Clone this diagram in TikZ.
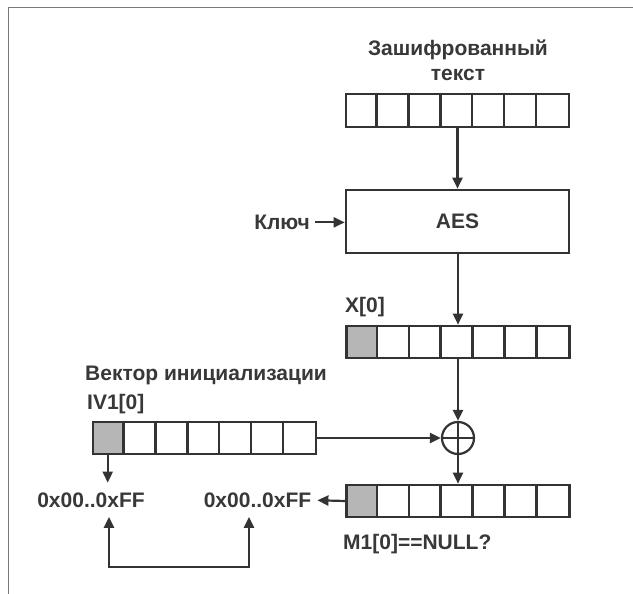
\documentclass[tikz,border=0pt]{standalone}
\usepackage{fontspec}
\setmainfont{Liberation Sans}
\usetikzlibrary{arrows.meta,calc}
\definecolor{ink}{HTML}{333333}
\definecolor{txt}{HTML}{383838}
\definecolor{cellgray}{HTML}{B6B6B6}
\definecolor{framegray}{HTML}{7A7A7A}
\begin{document}
\begin{tikzpicture}[x=1pt,y=-1pt,
  lbl/.style={font=\fontsize{21}{25}\selectfont\bfseries, text=txt, inner sep=0pt},
  arr/.style={draw=ink, line width=2.2pt, -{Triangle[length=11pt,width=10pt]}},
  reg/.style={draw=ink, fill=white, line width=2.6pt, minimum width=223pt, minimum height=32pt, inner sep=0pt},
  regfirst/.style={reg, path picture={\fill[cellgray] (path picture bounding box.north west) rectangle ($(path picture bounding box.south west)+(31.857pt,0pt)$);}},
  divider/.style={draw=ink, line width=2.6pt}
]
\useasboundingbox (0,0) rectangle (633,594);
\fill[white] (0,0) rectangle (633,594);
\draw[framegray, line width=1.6pt] (8.5,594) -- (8.5,7.5) -- (633,7.5);

% registers
\node[reg, minimum height=33pt] (ct) at (457.5,110.5) {};
\node[reg, minimum height=63pt, lbl] (aes) at (457.5,221.5) {AES};
\node[regfirst] (x0) at (458,342) {};
\node[regfirst] (m1) at (458,501) {};
\node[regfirst] (iv) at (204.5,438) {};
\foreach \r in {ct,x0,m1,iv}{
  \foreach \i in {1,...,6}{
    \draw[divider] ($(\r.north west)+(\i*31.857pt,0pt)$) -- ($(\r.south west)+(\i*31.857pt,0pt)$);
  }
}

% xor
\node[draw=ink, circle, line width=2.2pt, minimum size=32pt, inner sep=0pt] (xor) at (458,438) {};
\draw[ink, line width=2.2pt] (xor.north) -- (xor.south) (xor.west) -- (xor.east);

% labels
\node[lbl, anchor=base] (t1) at (458,55.5) {Зашифрованный};
\node[lbl, anchor=base] (t2) at (458,80.5) {текст};
\node[lbl, anchor=base east] (key) at (310,229.5) {Ключ};
\node[lbl, anchor=base west] (xl) at (345,312) {X[0]};
\node[lbl, anchor=base west] (ivt) at (85,380) {Вектор инициализации};
\node[lbl, anchor=base west] (ivl) at (87,409) {IV1[0]};
\node[lbl, anchor=base] (hex1) at (91,507.5) {0x00..0xFF};
\node[lbl, anchor=base] (hex2) at (257.5,507.5) {0x00..0xFF};
\node[lbl, anchor=base west] (m1l) at (343,549.5) {M1[0]==NULL?};

% connectors
\draw[arr] (ct.south) -- (aes.north);
\draw[arr] ([xshift=5pt]key.east) -- (key.east -| aes.west);
\draw[arr] (aes.south -| x0.north) -- (x0.north);
\draw[arr] (x0.south) -- (xor.north);
\draw[arr] (xor.south) -- (m1.north);
\draw[arr] (iv.east) -- (xor.west);
\draw[arr] (m1.west) -- ([xshift=6pt]hex2.east);

\coordinate (iv0) at ($(iv.south west)+(16pt,0pt)$);
\coordinate (h1t) at ([yshift=10pt]hex1.north);
\draw[arr] (iv0) -- (h1t -| iv0);

\coordinate (lpL) at (109,567);
\coordinate (lpR) at (249,567);
\coordinate (h1b) at ([yshift=-9pt]hex1.south);
\draw[ink, line width=2.2pt, {Triangle[length=11pt,width=10pt]}-{Triangle[length=11pt,width=10pt]}]
  (h1b -| lpL) -- (lpL) -- (lpR) -- (h1b -| lpR);
\end{tikzpicture}
\end{document}
